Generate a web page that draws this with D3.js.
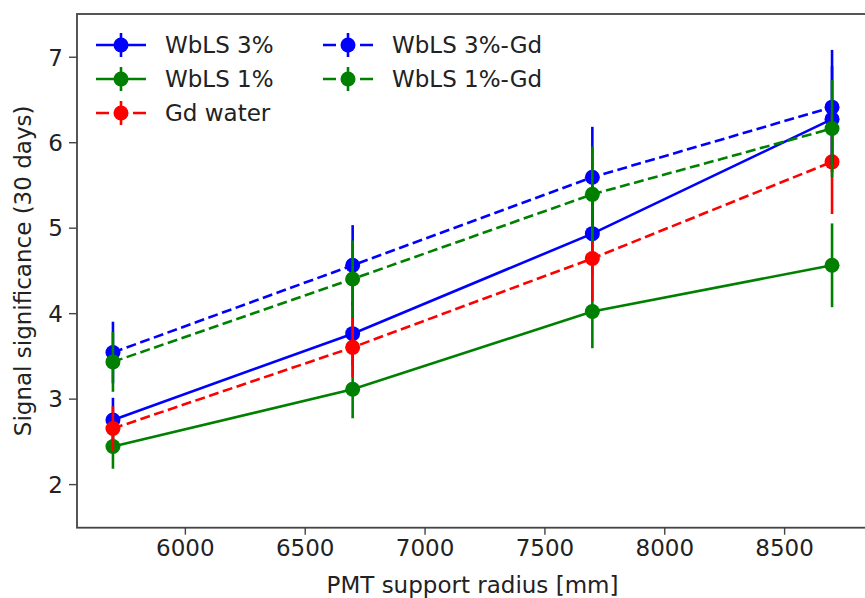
<!DOCTYPE html>
<html>
<head>
<meta charset="utf-8">
<script src="https://cdn.jsdelivr.net/npm/d3@7"></script>
<style>
  html, body { margin: 0; padding: 0; background: #fff; }
  svg { display: block; font-family: "DejaVu Sans", sans-serif; }
</style>
</head>
<body>
<svg id="chart" width="865" height="598"></svg>
<script>
// ---- data ----
const radii = [5700, 6700, 7700, 8700];
const seriesNames = ["WbLS 3%", "WbLS 1%", "Gd water", "WbLS 3%-Gd", "WbLS 1%-Gd"];
const wbls3 = [2.75, 3.76, 4.93, 6.27];
const wbls3Err = [0.26, 0.37, 0.49, 0.62];
const wbls1 = [2.44, 3.11, 4.02, 4.56];
const wbls1Err = [0.26, 0.34, 0.43, 0.49];
const gdWater = [2.65, 3.60, 4.64, 5.77];
const gdWaterErr = [0.26, 0.35, 0.50, 0.61];
const wbls3Gd = [3.54, 4.56, 5.59, 6.41];
const wbls3GdErr = [0.36, 0.47, 0.59, 0.67];
const wbls1Gd = [3.43, 4.40, 5.39, 6.16];
const wbls1GdErr = [0.35, 0.45, 0.56, 0.57];
const xTicks = [6000, 6500, 7000, 7500, 8000, 8500];
const yTicks = [2, 3, 4, 5, 6, 7];

const series = [
  { name: seriesNames[0], values: wbls3, err: wbls3Err, color: "#0000ff", dashed: false },
  { name: seriesNames[1], values: wbls1, err: wbls1Err, color: "#008000", dashed: false },
  { name: seriesNames[2], values: gdWater, err: gdWaterErr, color: "#ff0000", dashed: true },
  { name: seriesNames[3], values: wbls3Gd, err: wbls3GdErr, color: "#0000ff", dashed: true },
  { name: seriesNames[4], values: wbls1Gd, err: wbls1GdErr, color: "#008000", dashed: true }
];

// ---- layout ----
const svg = d3.select("#chart");
const mLeft = 77, mRight = 868, mTop = 14, mBottom = 527.7;
const x = d3.scaleLinear().domain([5550, 8850]).range([mLeft, mRight]);
const y = d3.scaleLinear().domain([1.49, 7.5]).range([mBottom, mTop]);

svg.append("rect").attr("width", 865).attr("height", 598).attr("fill", "#fff");

const lw = 2.6;
const r = 7.5;
const dash = "10,4.5";
const fs = "23px";

const plot = svg.append("g");
const lineGen = d3.line().x(d => x(d[0])).y(d => y(d[1]));

series.forEach(s => {
  const g = plot.append("g");
  const pts = radii.map((rad, i) => [rad, s.values[i], s.err[i]]);
  g.selectAll("line.err").data(pts).enter().append("line")
    .attr("x1", d => x(d[0])).attr("x2", d => x(d[0]))
    .attr("y1", d => y(d[1] - d[2])).attr("y2", d => y(d[1] + d[2]))
    .attr("stroke", s.color).attr("stroke-width", lw);
  g.append("path").datum(pts)
    .attr("d", lineGen)
    .attr("fill", "none")
    .attr("stroke", s.color)
    .attr("stroke-width", lw)
    .attr("stroke-dasharray", s.dashed ? dash : null);
  g.selectAll("circle").data(pts).enter().append("circle")
    .attr("cx", d => x(d[0])).attr("cy", d => y(d[1]))
    .attr("r", r).attr("fill", s.color);
});

// ---- axes ----
const axisColor = "#444";
const xAxis = d3.axisBottom(x).tickValues(xTicks).tickSize(7).tickPadding(5).tickFormat(d3.format("d"));
const yAxis = d3.axisLeft(y).tickValues(yTicks).tickSize(8).tickPadding(6).tickFormat(d3.format("d"));

const gx = svg.append("g").attr("transform", `translate(0,${mBottom})`).call(xAxis);
const gy = svg.append("g").attr("transform", `translate(${mLeft},0)`).call(yAxis);
[gx, gy].forEach(g => {
  g.select(".domain").remove();
  g.selectAll(".tick line").attr("stroke", axisColor).attr("stroke-width", 1.4);
  g.selectAll(".tick text").attr("fill", "#222").style("font-size", fs)
    .style("font-family", "'DejaVu Sans', sans-serif");
});
gy.selectAll(".tick text").attr("dy", "0.36em");

// spines
svg.append("rect")
  .attr("x", mLeft).attr("y", mTop)
  .attr("width", mRight - mLeft).attr("height", mBottom - mTop)
  .attr("fill", "none").attr("stroke", axisColor).attr("stroke-width", 1.8);

// axis labels
svg.append("text")
  .attr("x", (mLeft + mRight) / 2).attr("y", 593)
  .attr("text-anchor", "middle").attr("fill", "#222")
  .style("font-size", fs)
  .text("PMT support radius [mm]");

svg.append("text")
  .attr("transform", `translate(31,${(mTop + mBottom) / 2}) rotate(-90)`)
  .attr("text-anchor", "middle").attr("fill", "#222")
  .style("font-size", fs)
  .text("Signal significance (30 days)");

// ---- legend ----
const legendPos = [
  { x: 96, y: 45 }, { x: 96, y: 79 }, { x: 96, y: 113 },
  { x: 323, y: 45 }, { x: 323, y: 79 }
];
const handleLen = 50;
series.forEach((s, i) => {
  const p = legendPos[i];
  const g = svg.append("g").attr("transform", `translate(${p.x},${p.y})`);
  g.append("line").attr("x1", handleLen / 2).attr("x2", handleLen / 2)
    .attr("y1", -12).attr("y2", 12)
    .attr("stroke", s.color).attr("stroke-width", lw);
  g.append("line").attr("x1", 0).attr("x2", handleLen).attr("y1", 0).attr("y2", 0)
    .attr("stroke", s.color).attr("stroke-width", lw)
    .attr("stroke-dasharray", s.dashed ? "13,24" : null);
  g.append("circle").attr("cx", handleLen / 2).attr("cy", 0).attr("r", r).attr("fill", s.color);
  g.append("text").attr("x", 69).attr("y", 0).attr("dy", "0.36em")
    .attr("fill", "#222").style("font-size", fs).text(s.name);
});
</script>
</body>
</html>
